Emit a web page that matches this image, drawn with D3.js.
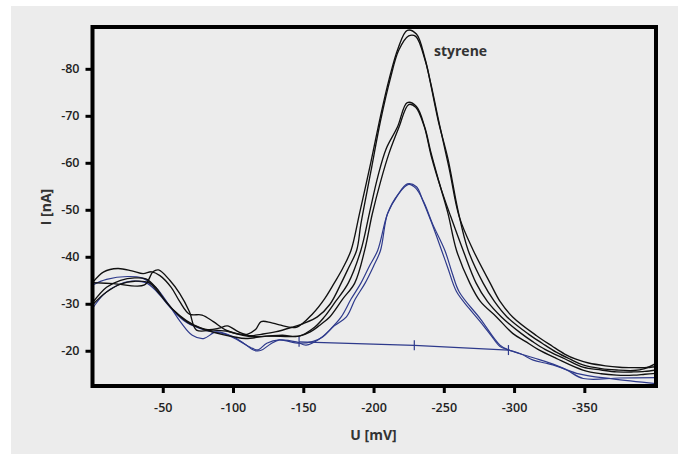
<!DOCTYPE html>
<html><head><meta charset="utf-8">
<script src="https://cdn.jsdelivr.net/npm/d3@7"></script>
<style>html,body{margin:0;padding:0;background:#fff;}svg{display:block;}</style>
</head><body>
<svg id="c" width="678" height="454"></svg>
<script>
// ---- data ----
const xTicks = [-50, -100, -150, -200, -250, -300, -350];
const yTicks = [-20, -30, -40, -50, -60, -70, -80];
const xLabel = "U [mV]";
const yLabel = "I [nA]";
const peakLabel = "styrene";

// tall black curves
const tall1 = [[0,-34.5],[-15,-34.3],[-37,-34.0],[-43,-36.8],[-47,-37.2],[-55,-35],[-62,-32.2],[-69,-28.3],[-74,-24.4],[-86,-24.4],[-95,-24.2],[-104,-23.6],[-110,-23.5],[-116,-24.5],[-120,-26.2],[-127,-26.0],[-133,-25.5],[-145,-25.0],[-157,-28],[-165,-31],[-172,-34.4],[-178,-37.5],[-184,-41.4],[-190,-49.2],[-198,-60],[-205,-70],[-211,-77.7],[-217.5,-84.4],[-224,-88.2],[-230.5,-87.4],[-236.5,-82.3],[-240,-77.7],[-246,-69],[-253,-60.8],[-260,-50],[-267.3,-41.4],[-278,-34.4],[-286,-30.5],[-295,-27.2],[-310,-23.6],[-320,-21.6],[-330,-19.7],[-340,-18.2],[-349,-17.0],[-362,-16.2],[-373,-15.9],[-385,-15.8],[-393,-16.2],[-401,-17.3]];
const tall2 = [[0,-30.2],[-10,-33.5],[-20,-35.0],[-30,-35.5],[-38,-35.3],[-45,-33.5],[-52,-30.5],[-62,-27.5],[-72,-25.5],[-82,-24.5],[-90,-24.8],[-96,-25.3],[-104,-24.0],[-112,-23.2],[-120,-23.5],[-130,-24.0],[-142,-25.0],[-150,-25.8],[-160,-27.2],[-169,-29.9],[-177,-34.4],[-182,-37.5],[-188,-41.4],[-191,-47],[-198,-58],[-205,-69],[-212,-78],[-218,-84],[-225,-87.0],[-230,-86.9],[-237,-81.5],[-241,-76.5],[-247,-68],[-254,-58.5],[-261,-48.5],[-270.9,-41.4],[-283,-34.4],[-290,-30.5],[-299,-27.2],[-316,-23.2],[-327,-21.0],[-336,-19.3],[-344,-18.2],[-353,-17.4],[-365,-16.8],[-375,-16.5],[-385,-16.4],[-393,-16.4],[-401,-16.6]];
// medium black curves
const mid1 = [[0,-34.5],[-8,-36.8],[-18,-37.5],[-28,-37.0],[-36,-36.4],[-42,-36.8],[-48,-36.0],[-56,-33.5],[-62,-30.5],[-69,-27.8],[-78,-27.6],[-86,-26.2],[-95,-24.4],[-107,-23.3],[-115,-23.0],[-124,-23.1],[-135,-23.3],[-147,-23.1],[-158,-25],[-165,-27.2],[-173,-30.5],[-182,-34.4],[-191,-41.4],[-197,-49.2],[-203,-57],[-209,-63],[-217,-67.6],[-224,-72.8],[-230.5,-72.0],[-236.5,-67.5],[-241,-62],[-247,-55.5],[-253,-49.2],[-259,-41.4],[-268.5,-34.4],[-276,-30.5],[-287.5,-27.2],[-299,-23.7],[-308,-22],[-317,-20.3],[-330,-18.4],[-349,-15.9],[-362,-15.1],[-373,-14.8],[-385,-14.8],[-393,-15.0],[-401,-15.2]];
const mid2 = [[0,-29.8],[-10,-32.5],[-20,-34.2],[-30,-34.8],[-40,-34.5],[-48,-32.0],[-58,-28.5],[-68,-26.0],[-80,-24.5],[-92,-23.5],[-100,-23.0],[-109,-22.6],[-124,-23.1],[-140,-23.0],[-147,-23.1],[-155,-24],[-162,-25.5],[-168.8,-27.2],[-178,-31],[-186.6,-34.4],[-193.7,-41.4],[-199,-49],[-205,-56],[-211,-62],[-218,-67.5],[-225,-72.4],[-230,-71.8],[-236,-67.8],[-241,-61.5],[-248,-54.5],[-255,-48.5],[-263.7,-41.4],[-273,-34.4],[-281,-30.5],[-291,-27.2],[-305,-23.7],[-313,-22],[-322,-20.3],[-336,-18.3],[-349,-16.5],[-362,-15.9],[-373,-15.5],[-385,-15.5],[-393,-15.6],[-401,-15.9]];
// blue curves
const blue1 = [[0,-34.0],[-10,-35.2],[-25,-35.8],[-35,-35.5],[-45,-33.5],[-55,-29.5],[-63,-26],[-71,-23.3],[-79,-22.6],[-88,-24.0],[-100,-23],[-108,-21.5],[-115,-20.1],[-120,-20.1],[-127,-21.5],[-133,-22.3],[-145,-21.9],[-152,-21.2],[-162,-22.6],[-169,-24.5],[-177,-27.2],[-184,-31],[-191,-34.4],[-197,-38],[-203,-41.4],[-210,-49.2],[-217,-53],[-224,-55.5],[-230.5,-54.9],[-235,-52],[-241,-47.5],[-248.4,-41.4],[-253,-37.5],[-259,-32.6],[-268,-29],[-275,-26.5],[-283,-23.5],[-290,-20.9],[-296,-20.2],[-305,-19.3],[-313.7,-18.0],[-322,-17.4],[-327.6,-17.0],[-337.4,-15.9],[-349.2,-14.1],[-375,-14.2],[-401,-14.3]];
const blue2 = [[0,-29.0],[-8,-32.0],[-18,-34.0],[-28,-34.8],[-38,-34.5],[-46,-32.5],[-56,-29],[-67,-26],[-80,-24.4],[-95,-23.5],[-105,-22.0],[-114,-20.5],[-118,-20.2],[-124,-21.6],[-133,-22.3],[-147,-21.6],[-157,-22],[-164,-23],[-172,-25.3],[-180.7,-27.2],[-187,-31],[-194,-34.4],[-200,-38],[-205,-41.4],[-210,-49.2],[-218,-53.5],[-225,-55.4],[-230,-54.6],[-236,-51.5],[-242,-47],[-250.7,-41.4],[-256,-36.5],[-261,-32.5],[-276,-26.8],[-290,-21.2],[-296,-20.2],[-306,-19.2],[-318,-18.1],[-330,-16.9],[-344.5,-15.2],[-370,-14.0],[-401,-13.0]];
// baseline with markers
const baseX = [-147, -229, -296];
const baseY = [-21.9, -21.15, -20.15];

// ---- drawing ----
const svg = d3.select("#c");
svg.append("rect").attr("x", 11).attr("y", 6).attr("width", 667).attr("height", 448).attr("fill", "#ececec");

const L = 92.5, R = 656, T = 27, B = 386;
const x = d3.scaleLinear().domain([0, -401]).range([L, R]);
const y = d3.scaleLinear().domain([-12.5, -88.9]).range([B, T]);

svg.append("clipPath").attr("id", "clip").append("rect")
  .attr("x", L).attr("y", T).attr("width", R - L).attr("height", B - T);

const line = d3.line().x(d => x(d[0])).y(d => y(d[1])).curve(d3.curveCatmullRom.alpha(0.5));
const straight = d3.line().x(d => x(d[0])).y(d => y(d[1]));
const g = svg.append("g").attr("clip-path", "url(#clip)");

const black = "#111";
const blue = "#2e3a8c";
[[blue1, blue], [blue2, blue], [mid1, black], [mid2, black], [tall1, black], [tall2, black]].forEach(([data, col]) => {
  g.append("path").datum(data).attr("d", line).attr("fill", "none")
    .attr("stroke", col).attr("stroke-width", col === blue ? 1.2 : 1.35).attr("stroke-linejoin", "round");
});

const base = baseX.map((v, i) => [v, baseY[i]]);
g.append("path").datum(base).attr("d", straight).attr("fill", "none").attr("stroke", blue).attr("stroke-width", 1.2);
g.selectAll("line.bt").data(base).enter().append("line")
  .attr("x1", d => x(d[0])).attr("x2", d => x(d[0]))
  .attr("y1", d => y(d[1]) - 5).attr("y2", d => y(d[1]) + 5)
  .attr("stroke", blue).attr("stroke-width", 1.2);

// axes
const fmt = d => String(d);
const xa = svg.append("g").attr("transform", `translate(0,${B})`)
  .call(d3.axisBottom(x).tickValues(xTicks).tickSize(7).tickPadding(10).tickFormat(fmt));
const ya = svg.append("g").attr("transform", `translate(${L},0)`)
  .call(d3.axisLeft(y).tickValues(yTicks).tickSize(7).tickPadding(6).tickFormat(fmt));
[xa, ya].forEach(a => {
  a.select(".domain").remove();
  a.selectAll(".tick line").attr("stroke", "#000").attr("stroke-width", 3);
  a.selectAll(".tick text").attr("fill", "#222").style("font-family", "'Open Sans', sans-serif")
    .style("font-size", "12.5px").style("font-weight", 600);
});

// frame
svg.append("rect").attr("x", L).attr("y", T).attr("width", R - L).attr("height", B - T)
  .attr("fill", "none").attr("stroke", "#000").attr("stroke-width", 4);

// titles
svg.append("text").attr("x", 373.5).attr("y", 439.5).attr("text-anchor", "middle")
  .attr("fill", "#333").style("font-family", "'Open Sans', sans-serif").style("font-size", "14px").style("font-weight", 700)
  .text(xLabel);
svg.append("text").attr("transform", "translate(50.5,207) rotate(-90)").attr("text-anchor", "middle")
  .attr("fill", "#333").style("font-family", "'Open Sans', sans-serif").style("font-size", "14px").style("font-weight", 700)
  .text(yLabel);
svg.append("text").attr("x", 434).attr("y", 56)
  .attr("fill", "#333").style("font-family", "'Open Sans', sans-serif").style("font-size", "14px").style("font-weight", 700)
  .text(peakLabel);
</script>
</body></html>
